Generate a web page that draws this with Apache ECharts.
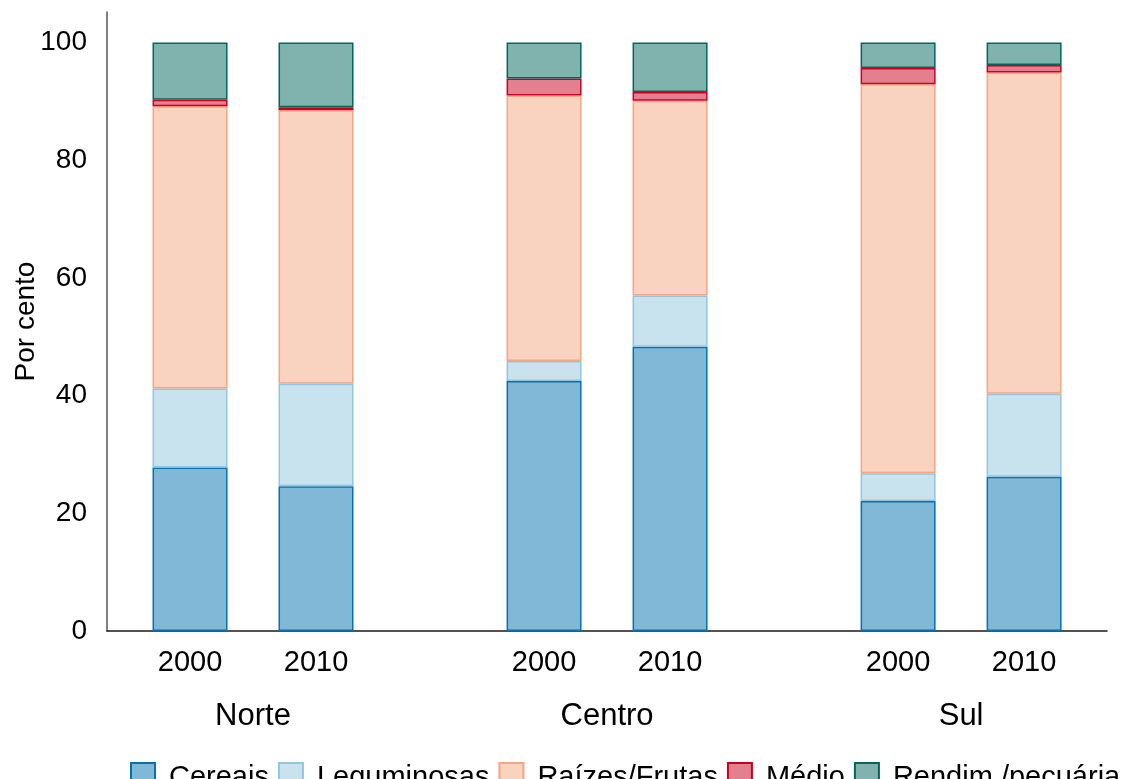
<!DOCTYPE html>
<html>
<head>
<meta charset="utf-8">
<script src="https://cdn.jsdelivr.net/npm/echarts@6/dist/echarts.min.js"></script>
<style>
html,body{margin:0;padding:0;background:#fff;}
#chart{width:1129px;height:779px;}
</style>
</head>
<body>
<div id="chart"></div>
<script>
// ---- data ----
const regions = ['Norte', 'Centro', 'Sul'];
const years = ['2000', '2010'];
const seriesNames = ['Cereais', 'Leguminosas', 'Raízes/Frutas', 'Médio', 'Rendim./pecuária'];
// order: Norte 2000, Norte 2010, Centro 2000, Centro 2010, Sul 2000, Sul 2010
const cereais      = [27.8, 24.6, 42.5, 48.3, 22.1, 26.2];
const leguminosas  = [13.4, 17.4, 3.4, 8.7, 4.7, 14.1];
const raizesFrutas = [48.0, 46.5, 45.1, 33.1, 66.1, 54.6];
const medio        = [1.1, 0.5, 2.9, 1.5, 2.8, 1.3];
const rendimento   = [9.7, 11.0, 6.1, 8.4, 4.3, 3.8];
const yTicks = [0, 20, 40, 60, 80, 100];

const colors = ['#0571b0', '#92c5de', '#f4a582', '#ca0020', '#01665e'];
const fills = ['rgba(5,113,176,0.5)', 'rgba(146,197,222,0.5)', 'rgba(244,165,130,0.5)', 'rgba(202,0,32,0.5)', 'rgba(1,102,94,0.5)'];

// ---- layout of bar slots on a numeric x scale ----
const groupStep = 2.81;
const positions = [];
const posLabel = [];
regions.forEach((r, gi) => {
  years.forEach((y, yi) => {
    positions.push(gi * groupStep + yi);
    posLabel.push(y);
  });
});
const groupCenters = regions.map((r, gi) => gi * groupStep + (years.length - 1) / 2);
const xMin = -0.659, xMax = 7.278;

function nearestIndex(arr, v) {
  let best = 0, d = Infinity;
  arr.forEach((p, i) => { const dd = Math.abs(p - v); if (dd < d) { d = dd; best = i; } });
  return best;
}

const allValues = [cereais, leguminosas, raizesFrutas, medio, rendimento];
const font = 'Liberation Sans, Arial, Helvetica, sans-serif';

// data items are [value, position] so that the stacked dimension is the value
const series = seriesNames.map((name, si) => ({
  name: name,
  type: 'bar',
  stack: 'total',
  barWidth: 75,
  xAxisIndex: 0,
  encode: { x: 1, y: 0 },
  itemStyle: { color: fills[si], borderColor: colors[si], borderWidth: 1.5 },
  emphasis: { disabled: true },
  data: allValues[si].map((v, i) => [v, positions[i]])
}));

const chart = echarts.init(document.getElementById('chart'), null, { renderer: 'canvas' });
chart.setOption({
  animation: false,
  backgroundColor: '#fff',
  textStyle: { fontFamily: font },
  grid: { left: 107, right: 22, top: 12, bottom: 148, containLabel: false, outerBoundsMode: 'none' },
  xAxis: [
    {
      type: 'value', position: 'bottom', min: xMin, max: xMax,
      axisLine: { show: true, onZero: false, lineStyle: { color: '#1a1a1a', width: 1.5 } },
      axisTick: { show: false },
      splitLine: { show: false },
      axisLabel: {
        customValues: positions,
        margin: 17,
        fontSize: 29, color: '#000', fontFamily: font,
        formatter: v => posLabel[nearestIndex(positions, v)]
      }
    },
    {
      type: 'value', position: 'bottom', min: xMin, max: xMax,
      axisLine: { show: false, onZero: false },
      axisTick: { show: false },
      splitLine: { show: false },
      axisLabel: {
        customValues: groupCenters,
        margin: 70,
        fontSize: 31, color: '#000', fontFamily: font,
        formatter: v => regions[nearestIndex(groupCenters, v)]
      }
    }
  ],
  yAxis: {
    type: 'value', min: 0, max: 105.2, interval: 20,
    name: 'Por cento', nameLocation: 'middle', nameGap: 67, nameRotate: 90,
    nameMoveOverlap: false,
    nameTextStyle: { fontSize: 28, color: '#000', fontFamily: font },
    axisLine: { show: true, onZero: false, lineStyle: { color: '#555', width: 1.5 } },
    axisTick: { show: false },
    splitLine: { show: false },
    axisLabel: {
      margin: 20, fontSize: 28, color: '#000', fontFamily: font,
      formatter: v => (yTicks.indexOf(Math.round(v * 1000) / 1000) >= 0 ? String(v) : '')
    }
  },
  legend: {
    data: seriesNames,
    left: 130, top: 762, padding: 0,
    itemWidth: 24, itemHeight: 30, itemGap: 9,
    icon: 'rect',
    textStyle: { fontSize: 29, color: '#000', fontFamily: font, padding: [0, 0, 0, 9] },
    selectedMode: false
  },
  series: series
});
</script>
</body>
</html>
